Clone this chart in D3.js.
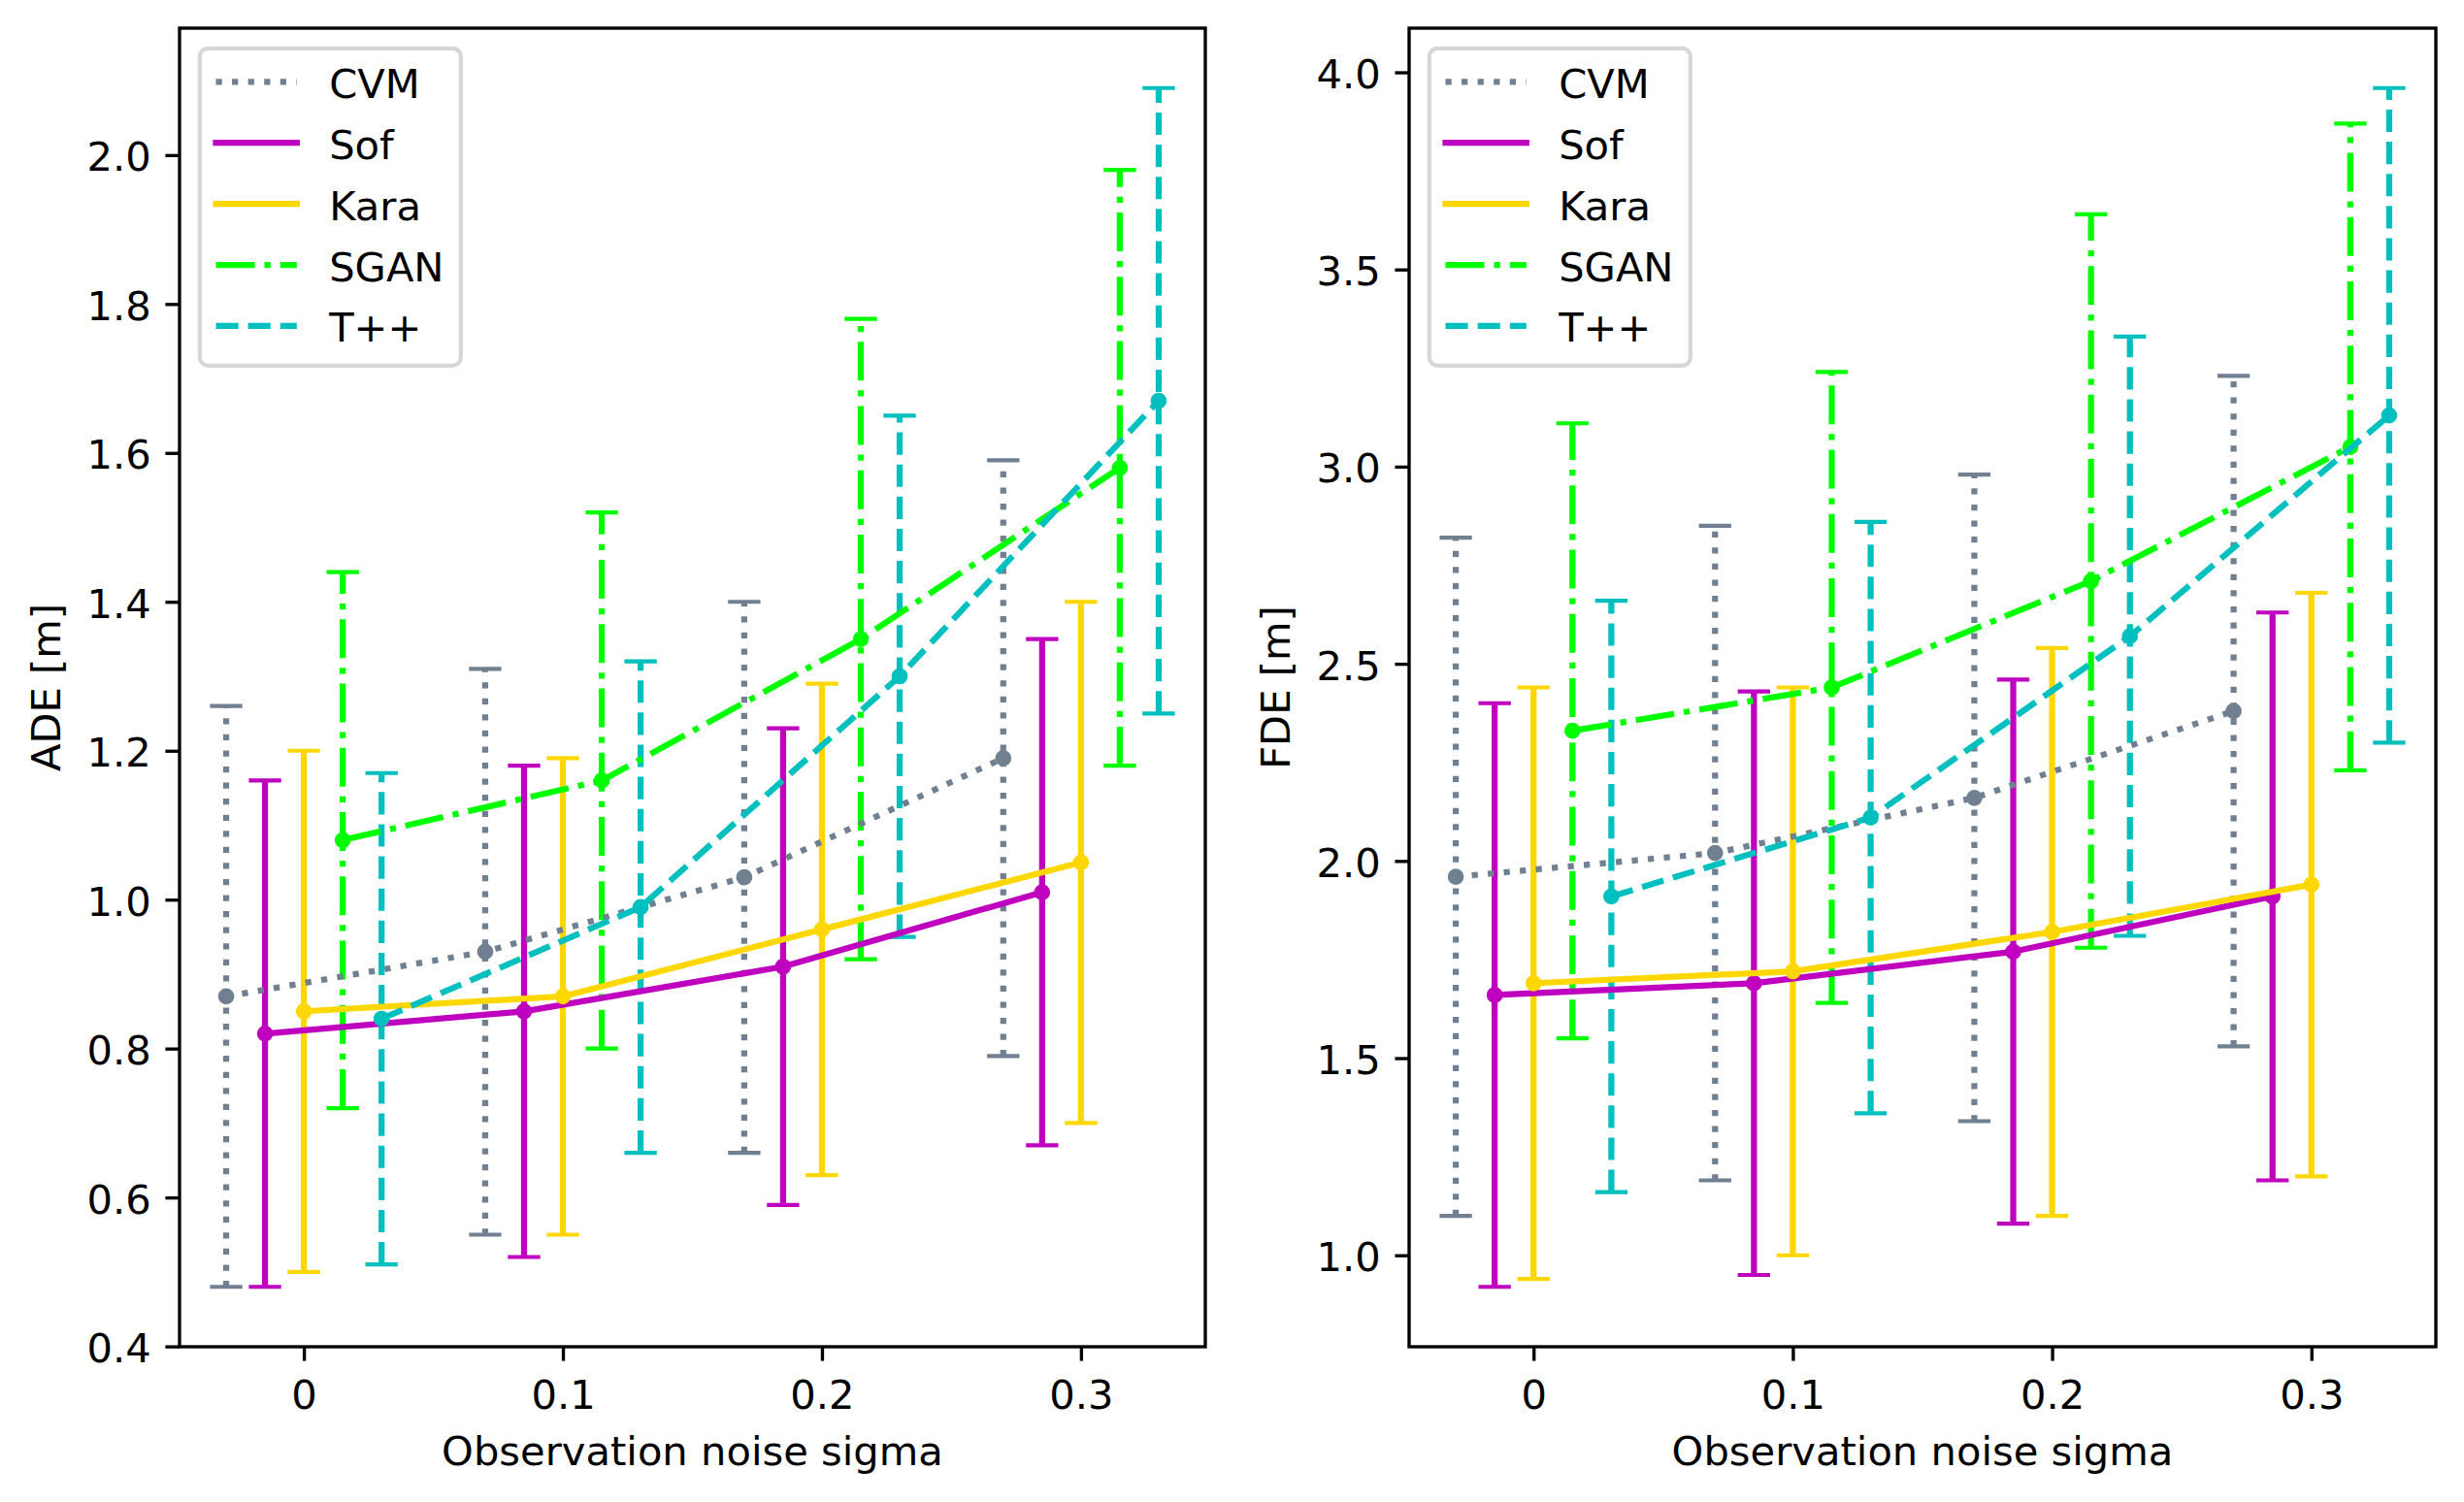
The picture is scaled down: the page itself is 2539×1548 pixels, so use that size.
<!DOCTYPE html>
<html>
<head>
<meta charset="utf-8">
<script src="https://cdn.jsdelivr.net/npm/d3@7/dist/d3.min.js"></script>
<style>
  html, body { margin: 0; padding: 0; background: #fff; }
  svg { display: block; }
  text { font-family: "DejaVu Sans", sans-serif; fill: #000; }
</style>
</head>
<body>
<script>
// ---------------- DATA ----------------
const sigmas = [0, 0.1, 0.2, 0.3];
const xTickLabels = ["0", "0.1", "0.2", "0.3"];
const methods = ["CVM", "Sof", "Kara", "SGAN", "T++"];
const methodOffsets = [-0.03, -0.015, 0, 0.015, 0.03];

// ADE (mean and std) per method, per sigma
const adeCVM  = [0.87, 0.93, 1.03, 1.19];
const adeCVMs = [0.39, 0.38, 0.37, 0.40];
const adeSof  = [0.82, 0.85, 0.91, 1.01];
const adeSofs = [0.34, 0.33, 0.32, 0.34];
const adeKara  = [0.85, 0.87, 0.96, 1.05];
const adeKaras = [0.35, 0.32, 0.33, 0.35];
const adeSGAN  = [1.08, 1.16, 1.35, 1.58];
const adeSGANs = [0.36, 0.36, 0.43, 0.40];
const adeTpp  = [0.84, 0.99, 1.30, 1.67];
const adeTpps = [0.33, 0.33, 0.35, 0.42];

// FDE (mean and std) per method, per sigma
const fdeCVM  = [1.96, 2.02, 2.16, 2.38];
const fdeCVMs = [0.86, 0.83, 0.82, 0.85];
const fdeSof  = [1.66, 1.69, 1.77, 1.91];
const fdeSofs = [0.74, 0.74, 0.69, 0.72];
const fdeKara  = [1.69, 1.72, 1.82, 1.94];
const fdeKaras = [0.75, 0.72, 0.72, 0.74];
const fdeSGAN  = [2.33, 2.44, 2.71, 3.05];
const fdeSGANs = [0.78, 0.80, 0.93, 0.82];
const fdeTpp  = [1.91, 2.11, 2.57, 3.13];
const fdeTpps = [0.75, 0.75, 0.76, 0.83];

const adeYTicks = [0.4, 0.6, 0.8, 1.0, 1.2, 1.4, 1.6, 1.8, 2.0];
const fdeYTicks = [1.0, 1.5, 2.0, 2.5, 3.0, 3.5, 4.0];

// ---------------- STYLE ----------------
const DPI = 300, PT = DPI / 72;
const FS = 10 * PT;
const LW = 1.5 * PT;
const styles = {
  "CVM":  { color: "#708090", dash: [1 * LW, 1.65 * LW] },
  "Sof":  { color: "#bf00bf", dash: null },
  "Kara": { color: "#ffd700", dash: null },
  "SGAN": { color: "#00ff00", dash: [6.4 * LW, 1.6 * LW, 1 * LW, 1.6 * LW] },
  "T++":  { color: "#00bfbf", dash: [3.7 * LW, 1.6 * LW] }
};

const W = 2539, H = 1548;
const svg = d3.select("body").append("svg").attr("width", W).attr("height", H);

function buildSeries(means, stds) {
  return methods.map((m, i) => ({
    name: m,
    pts: sigmas.map((s, j) => ({ x: s + methodOffsets[i], y: means[i][j], e: stds[i][j] }))
  }));
}

const adeSeries = buildSeries([adeCVM, adeSof, adeKara, adeSGAN, adeTpp],
                              [adeCVMs, adeSofs, adeKaras, adeSGANs, adeTpps]);
const fdeSeries = buildSeries([fdeCVM, fdeSof, fdeKara, fdeSGAN, fdeTpp],
                              [fdeCVMs, fdeSofs, fdeKaras, fdeSGANs, fdeTpps]);

function panel(series, box, yTicks, yFmt, yLabel) {
  const allPts = series.flatMap(s => s.pts);
  const xmin = d3.min(allPts, p => p.x), xmax = d3.max(allPts, p => p.x);
  const ymin = d3.min(allPts, p => p.y - p.e), ymax = d3.max(allPts, p => p.y + p.e);
  const mx = (xmax - xmin) * 0.05, my = (ymax - ymin) * 0.05;
  const x = d3.scaleLinear().domain([xmin - mx, xmax + mx]).range([box.x0, box.x1]);
  const y = d3.scaleLinear().domain([ymin - my, ymax + my]).range([box.y1, box.y0]);

  const g = svg.append("g");

  // error bars (below data lines)
  const capHalf = 4 * PT;
  series.forEach(s => {
    const st = styles[s.name];
    const eg = g.append("g");
    s.pts.forEach(p => {
      eg.append("line")
        .attr("x1", x(p.x)).attr("x2", x(p.x))
        .attr("y1", y(p.y - p.e)).attr("y2", y(p.y + p.e))
        .attr("stroke", st.color).attr("stroke-width", LW)
        .attr("stroke-dasharray", st.dash ? st.dash.join(",") : null);
      [p.y - p.e, p.y + p.e].forEach(v => {
        eg.append("line")
          .attr("x1", x(p.x) - capHalf).attr("x2", x(p.x) + capHalf)
          .attr("y1", y(v)).attr("y2", y(v))
          .attr("stroke", st.color).attr("stroke-width", 1 * PT);
      });
    });
  });

  // data lines + markers
  const line = d3.line().x(p => x(p.x)).y(p => y(p.y));
  series.forEach(s => {
    const st = styles[s.name];
    g.append("path").datum(s.pts)
      .attr("d", line)
      .attr("fill", "none")
      .attr("stroke", st.color).attr("stroke-width", LW)
      .attr("stroke-linejoin", "round")
      .attr("stroke-linecap", st.dash ? "butt" : "square")
      .attr("stroke-dasharray", st.dash ? st.dash.join(",") : null);
    g.selectAll(null).data(s.pts).enter().append("circle")
      .attr("cx", p => x(p.x)).attr("cy", p => y(p.y))
      .attr("r", 1.5 * PT)
      .attr("fill", st.color).attr("stroke", st.color).attr("stroke-width", 1 * PT);
  });

  // axes
  const tickLen = 3.5 * PT, pad = 3.5 * PT;
  const xAxis = d3.axisBottom(x).tickValues(sigmas)
    .tickFormat((d, i) => xTickLabels[i]).tickSizeInner(tickLen).tickSizeOuter(0).tickPadding(pad);
  const gx = g.append("g").attr("transform", `translate(0,${box.y1})`).call(xAxis);
  const yAxis = d3.axisLeft(y).tickValues(yTicks)
    .tickFormat(yFmt).tickSizeInner(tickLen).tickSizeOuter(0).tickPadding(pad);
  const gy = g.append("g").attr("transform", `translate(${box.x0},0)`).call(yAxis);
  [gx, gy].forEach(a => {
    a.select(".domain").remove();
    a.selectAll(".tick line").attr("stroke", "#000").attr("stroke-width", 0.8 * PT);
    a.selectAll(".tick text").attr("font-size", FS).attr("font-family", "DejaVu Sans").attr("fill", "#000");
  });
  gx.selectAll(".tick text").attr("dy", null).attr("y", null)
    .attr("transform", `translate(0,${tickLen + pad + 35})`);
  gy.selectAll(".tick text").attr("dy", null).attr("transform", "translate(0,16)");

  // frame
  g.append("rect")
    .attr("x", box.x0).attr("y", box.y0)
    .attr("width", box.x1 - box.x0).attr("height", box.y1 - box.y0)
    .attr("fill", "none").attr("stroke", "#000").attr("stroke-width", 0.8 * PT);

  // labels
  g.append("text").attr("x", (box.x0 + box.x1) / 2).attr("y", 1510)
    .attr("text-anchor", "middle").attr("font-size", FS).text("Observation noise sigma");
  g.append("text")
    .attr("transform", `translate(${box.x0 - 123},${(box.y0 + box.y1) / 2}) rotate(-90)`)
    .attr("text-anchor", "middle").attr("font-size", FS).text(yLabel);

  // legend
  const lx = box.x0 + 0.5 * FS, ly = box.y0 + 0.5 * FS;
  const lw = 269, lh = 327;
  const lg = g.append("g");
  lg.append("rect").attr("x", lx).attr("y", ly).attr("width", lw).attr("height", lh)
    .attr("rx", 0.2 * FS).attr("ry", 0.2 * FS)
    .attr("fill", "#ffffff").attr("fill-opacity", 0.8)
    .attr("stroke", "#cccccc").attr("stroke-opacity", 0.8).attr("stroke-width", 1 * PT);
  const hx0 = lx + 0.4 * FS, hx1 = hx0 + 2 * FS;
  methods.forEach((m, i) => {
    const st = styles[m];
    const cy = ly + 34.5 + i * 62.9;
    lg.append("line").attr("x1", hx0).attr("x2", hx1).attr("y1", cy).attr("y2", cy)
      .attr("stroke", st.color).attr("stroke-width", LW)
      .attr("stroke-linecap", st.dash ? "butt" : "square")
      .attr("stroke-dasharray", st.dash ? st.dash.join(",") : null);
    lg.append("text").attr("x", hx1 + 0.8 * FS).attr("y", cy + 16.5)
      .attr("font-size", FS).text(m);
  });
}

panel(adeSeries, { x0: 185, x1: 1242, y0: 29, y1: 1388 }, adeYTicks, d3.format(".1f"), "ADE [m]");
panel(fdeSeries, { x0: 1452, x1: 2510, y0: 29, y1: 1388 }, fdeYTicks, d3.format(".1f"), "FDE [m]");
</script>
</body>
</html>
